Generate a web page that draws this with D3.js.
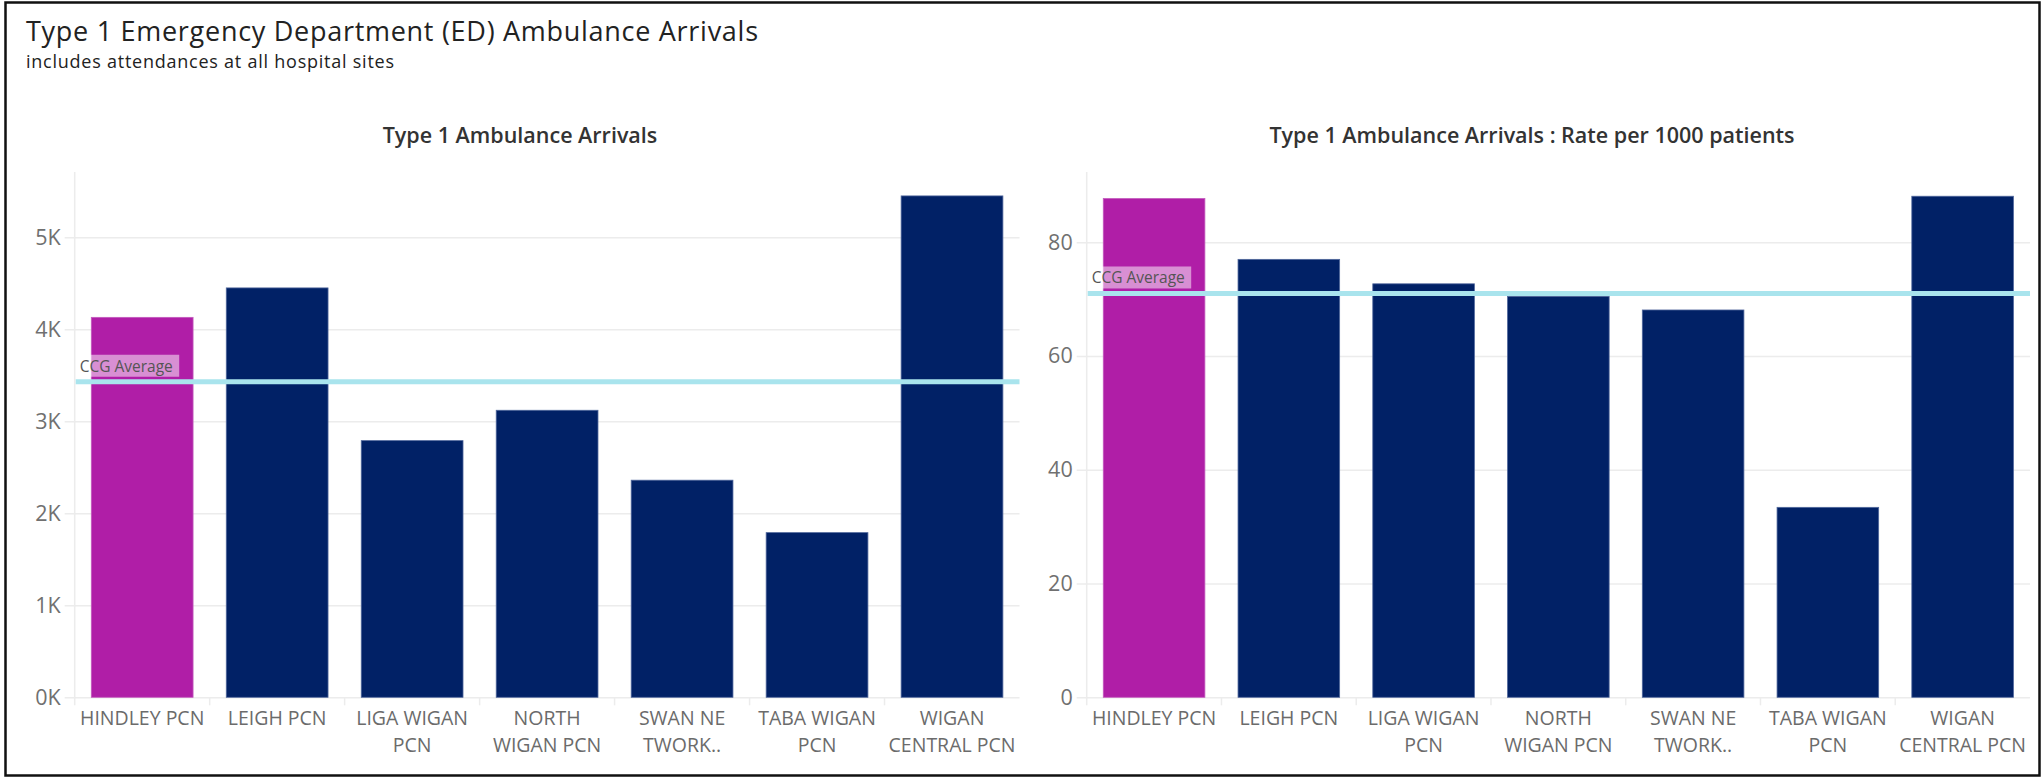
<!DOCTYPE html>
<html>
<head>
<meta charset="utf-8">
<script src="https://cdn.jsdelivr.net/npm/d3@7"></script>
<style>
  body { margin: 0; background: #fff; }
  text { font-family: "Open Sans", "Noto Sans", sans-serif; }
</style>
</head>
<body>
<div id="chart"></div>
<script>
// PCN categories and the wrapped tick labels shown under each bar
const categories = ["HINDLEY PCN", "LEIGH PCN", "LIGA WIGAN PCN", "NORTH WIGAN PCN", "SWAN NETWORK", "TABA WIGAN PCN", "WIGAN CENTRAL PCN"];
const categoryLabels = [["HINDLEY PCN"], ["LEIGH PCN"], ["LIGA WIGAN", "PCN"], ["NORTH", "WIGAN PCN"], ["SWAN NE", "TWORK.."], ["TABA WIGAN", "PCN"], ["WIGAN", "CENTRAL PCN"]];
const highlighted = "HINDLEY PCN";

// left chart: counts
const arrivals = [4130, 4450, 2790, 3120, 2360, 1790, 5450];
const arrivalsAverage = 3430;
const arrivalsTicks = [0, 1000, 2000, 3000, 4000, 5000];

// right chart: rate per 1000 patients
const ratePer1000 = [87.7, 77.0, 72.7, 70.5, 68.1, 33.4, 88.1];
const rateAverage = 71.0;
const rateTicks = [0, 20, 40, 60, 80];

const width = 2042;
const height = 779;

const svg = d3.select('#chart').append('svg')
    .attr('width', width)
    .attr('height', height);

// outer frame
svg.append('rect')
    .attr('x', 5.5)
    .attr('y', 2.5)
    .attr('width', 2034)
    .attr('height', 773)
    .attr('fill', 'none')
    .attr('stroke', '#111')
    .attr('stroke-width', 2.5);

svg.append('text')
    .attr('x', 26)
    .attr('y', 41)
    .attr('fill', '#222')
    .attr('textLength', 732)
    .attr('lengthAdjust', 'spacing')
    .style('font-size', '27px')
    .text('Type 1 Emergency Department (ED) Ambulance Arrivals');

svg.append('text')
    .attr('x', 26)
    .attr('y', 68)
    .attr('fill', '#222')
    .attr('textLength', 368)
    .attr('lengthAdjust', 'spacing')
    .style('font-size', '18px')
    .text('includes attendances at all hospital sites');

function drawPanel(opt) {
    const top = 172, base = 697.3;

    const x = d3.scaleBand()
        .domain(categories)
        .range([opt.x0, opt.x1])
        .paddingInner(0.246)
        .paddingOuter(0.123);

    const y = d3.scaleLinear()
        .domain([0, opt.yMax])
        .range([base, top]);

    const g = svg.append('g');

    // panel title, centred over the whole panel
    g.append('text')
        .attr('x', opt.titleX)
        .attr('y', 143)
        .attr('text-anchor', 'middle')
        .attr('fill', '#333')
        .style('font-size', '21.5px')
        .style('font-weight', 600)
        .text(opt.title);

    // gridlines + y axis
    const yAxis = g.append('g')
        .attr('transform', `translate(${opt.x0},0)`)
        .call(d3.axisLeft(y)
            .tickValues(opt.ticks)
            .tickFormat(opt.format)
            .tickSize(-(opt.x1 - opt.x0))
            .tickPadding(14));
    yAxis.select('.domain').remove();
    yAxis.selectAll('.tick line')
        .attr('x1', -10)
        .attr('stroke', '#ececec')
        .attr('stroke-width', 1.5);
    yAxis.selectAll('.tick text')
        .attr('fill', '#707070')
        .style('font-size', '21.5px')
        .style('font-family', '"Open Sans", sans-serif');

    // vertical axis line
    g.append('line')
        .attr('x1', opt.x0).attr('x2', opt.x0)
        .attr('y1', top).attr('y2', base + 8)
        .attr('stroke', '#ececec')
        .attr('stroke-width', 1.5);

    // category separators under the baseline
    g.selectAll('line.sep')
        .data(categories.slice(1))
        .enter().append('line')
        .attr('class', 'sep')
        .attr('x1', d => x(d) - x.step() * x.paddingInner() / 2)
        .attr('x2', d => x(d) - x.step() * x.paddingInner() / 2)
        .attr('y1', base)
        .attr('y2', base + 8)
        .attr('stroke', '#ececec')
        .attr('stroke-width', 1.5);

    // bars
    g.selectAll('rect.bar')
        .data(opt.values)
        .enter().append('rect')
        .attr('class', 'bar')
        .attr('x', (d, i) => x(categories[i]))
        .attr('y', d => y(d))
        .attr('width', x.bandwidth())
        .attr('height', d => y(0) - y(d))
        .attr('fill', (d, i) => categories[i] === highlighted ? '#b01ea7' : '#012166')
        .attr('stroke', (d, i) => categories[i] === highlighted ? '#c35bbd' : '#50679c')
        .attr('stroke-width', 0.8);

    // category labels
    const labels = g.selectAll('text.cat')
        .data(categoryLabels)
        .enter().append('text')
        .attr('class', 'cat')
        .attr('text-anchor', 'middle')
        .attr('fill', '#6b6b6b')
        .style('font-size', '19.5px');
    labels.selectAll('tspan')
        .data((d, i) => d.map(s => ({ s, c: categories[i] })))
        .enter().append('tspan')
        .attr('x', d => x(d.c) + x.bandwidth() / 2)
        .attr('y', (d, j) => 725 + j * 27)
        .text(d => d.s);

    // CCG average reference line
    const avgY = y(opt.average);
    g.append('line')
        .attr('x1', opt.x0 + 1).attr('x2', opt.x1)
        .attr('y1', avgY).attr('y2', avgY)
        .attr('stroke', '#a9e4ed')
        .attr('stroke-width', 5);

    g.append('rect')
        .attr('x', opt.x0 + 4.5)
        .attr('y', avgY - 27)
        .attr('width', 100)
        .attr('height', 22)
        .attr('fill', '#fff')
        .attr('fill-opacity', 0.5);

    g.append('text')
        .attr('x', opt.x0 + 5)
        .attr('y', avgY - 10)
        .attr('fill', '#555')
        .style('font-size', '15.5px')
        .text('CCG Average');
}

drawPanel({
    title: 'Type 1 Ambulance Arrivals',
    titleX: 520,
    x0: 74.7, x1: 1019.5,
    yMax: 5710,
    values: arrivals,
    average: arrivalsAverage,
    ticks: arrivalsTicks,
    format: d => (d / 1000) + 'K'
});

drawPanel({
    title: 'Type 1 Ambulance Arrivals : Rate per 1000 patients',
    titleX: 1532,
    x0: 1086.7, x1: 2030,
    yMax: 92.36,
    values: ratePer1000,
    average: rateAverage,
    ticks: rateTicks,
    format: d3.format('d')
});
</script>
</body>
</html>
